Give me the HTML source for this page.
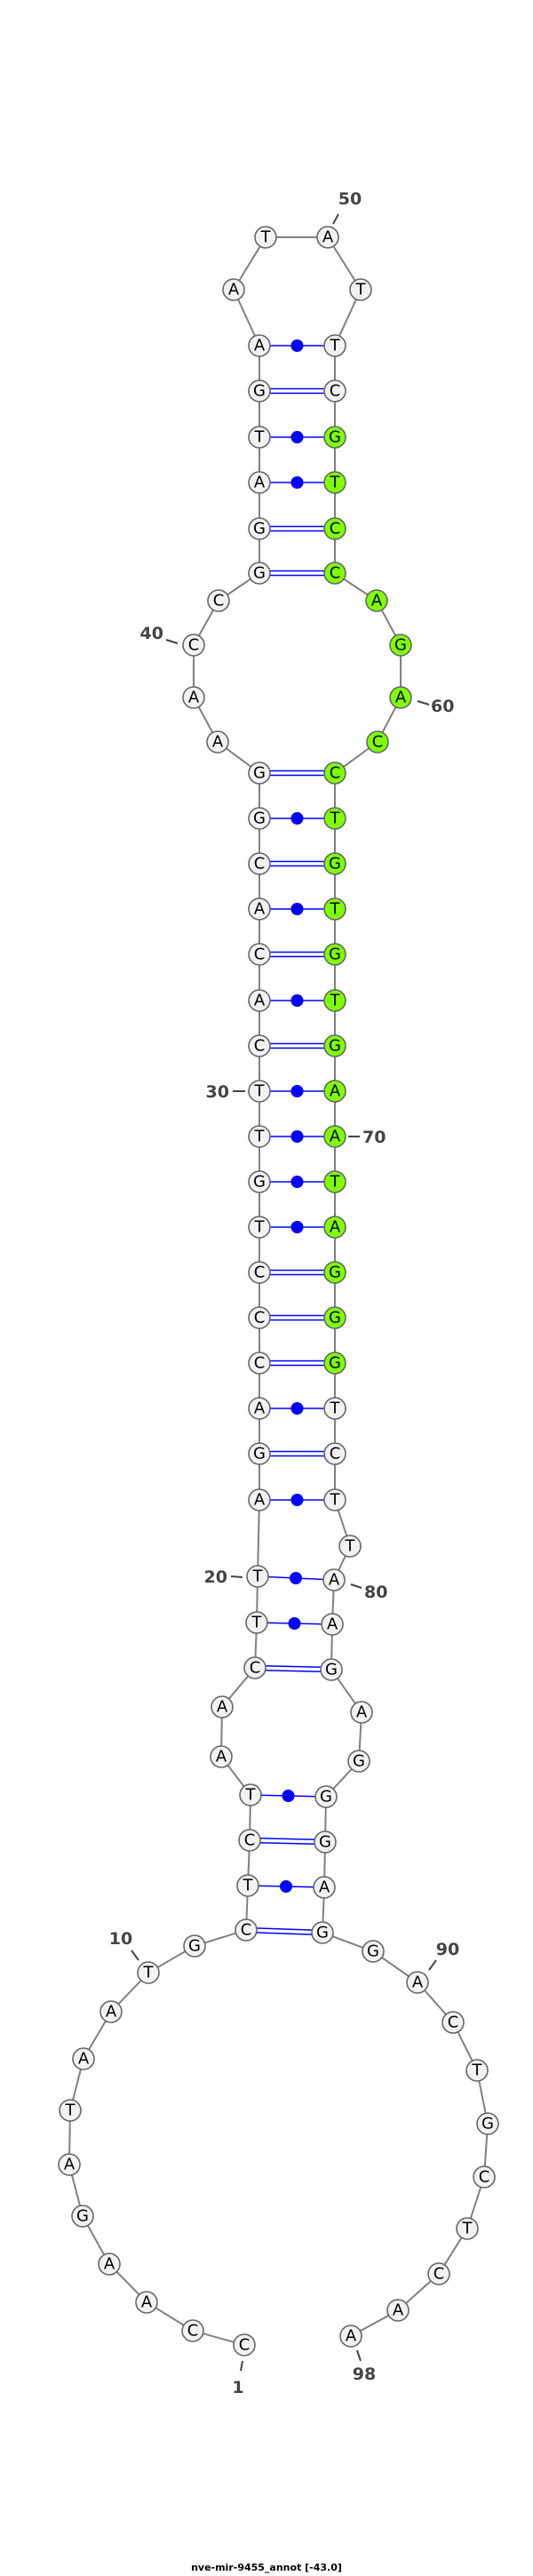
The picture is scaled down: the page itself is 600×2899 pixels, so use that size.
<!DOCTYPE html>
<html><head><meta charset="utf-8"><style>
html,body{margin:0;padding:0;background:#fff;}
svg{display:block}
.n circle{stroke:#666;stroke-width:1.6}
.w{fill:#f2f2f2}.g{fill:#7fff00}
.n text{font-family:"DejaVu Sans","Liberation Sans",sans-serif;font-size:18px;text-anchor:middle;dominant-baseline:central;fill:#000}
.lb{font-family:"DejaVu Sans","Liberation Sans",sans-serif;font-weight:bold;font-size:19px;fill:#444}
.tk{stroke:#444;stroke-width:2}
.bp{stroke:#00f;stroke-width:1.6}
</style></head><body>
<svg width="600" height="2899" viewBox="0 0 600 2899" xmlns="http://www.w3.org/2000/svg">
<polyline fill="none" stroke="#808080" stroke-width="2" points="275,2639 217,2623 165,2591 123,2548 93,2494 78,2436 79,2375 94,2317 125,2264 167,2220 219,2190 277,2172 279,2122 281,2071 282,2020 249,1977 250,1921 287,1877 289,1826 290,1774 292,1688 292,1636 292,1585 292,1534 292,1483 292,1432 292,1381 292,1330 292,1279 292,1228 292,1177 292,1126 292,1074 292,1023 292,972 292,921 292,870 245,835 218,785 218,726 246,676 292,645 292,595 292,543 292,492 292,440 292,389 263,326 299,267 369,267 406,326 377,389 377,440 377,492 377,543 377,595 377,645 424,676 451,726 451,785 425,835 377,870 377,921 377,972 377,1023 377,1074 377,1126 377,1177 377,1228 377,1279 377,1330 377,1381 377,1432 377,1483 377,1534 377,1585 377,1636 377,1688 394,1740 376,1778 374,1828 373,1879 407,1927 404,1982 367,2022 366,2073 365,2124 363,2175 420,2196 470,2231 510,2276 537,2330 549,2390 545,2450 526,2508 494,2559 448,2600 395,2629"/>
<g class="bp">
<!-- single (dot) pairs -->
<line x1="292" y1="389" x2="377" y2="389"/><line x1="292" y1="492" x2="377" y2="492"/><line x1="292" y1="543" x2="377" y2="543"/>
<line x1="292" y1="921" x2="377" y2="921"/><line x1="292" y1="1023" x2="377" y2="1023"/><line x1="292" y1="1126" x2="377" y2="1126"/>
<line x1="292" y1="1228" x2="377" y2="1228"/><line x1="292" y1="1279" x2="377" y2="1279"/><line x1="292" y1="1330" x2="377" y2="1330"/>
<line x1="292" y1="1381" x2="377" y2="1381"/><line x1="292" y1="1585" x2="377" y2="1585"/><line x1="292" y1="1688" x2="377" y2="1688"/>
<line x1="290" y1="1774" x2="376" y2="1778"/><line x1="289" y1="1826" x2="374" y2="1828"/><line x1="282" y1="2020" x2="367" y2="2022"/><line x1="279" y1="2122" x2="365" y2="2124"/>
<!-- double pairs -->
<line x1="292" y1="437.5" x2="377" y2="437.5"/><line x1="292" y1="442.5" x2="377" y2="442.5"/>
<line x1="292" y1="592.5" x2="377" y2="592.5"/><line x1="292" y1="597.5" x2="377" y2="597.5"/>
<line x1="292" y1="642.5" x2="377" y2="642.5"/><line x1="292" y1="647.5" x2="377" y2="647.5"/>
<line x1="292" y1="867.5" x2="377" y2="867.5"/><line x1="292" y1="872.5" x2="377" y2="872.5"/>
<line x1="292" y1="969.5" x2="377" y2="969.5"/><line x1="292" y1="974.5" x2="377" y2="974.5"/>
<line x1="292" y1="1071.5" x2="377" y2="1071.5"/><line x1="292" y1="1076.5" x2="377" y2="1076.5"/>
<line x1="292" y1="1174.5" x2="377" y2="1174.5"/><line x1="292" y1="1179.5" x2="377" y2="1179.5"/>
<line x1="292" y1="1429.5" x2="377" y2="1429.5"/><line x1="292" y1="1434.5" x2="377" y2="1434.5"/>
<line x1="292" y1="1480.5" x2="377" y2="1480.5"/><line x1="292" y1="1485.5" x2="377" y2="1485.5"/>
<line x1="292" y1="1531.5" x2="377" y2="1531.5"/><line x1="292" y1="1536.5" x2="377" y2="1536.5"/>
<line x1="292" y1="1633.5" x2="377" y2="1633.5"/><line x1="292" y1="1638.5" x2="377" y2="1638.5"/>
<line x1="287" y1="1874.5" x2="373" y2="1876.5"/><line x1="287" y1="1879.5" x2="373" y2="1881.5"/>
<line x1="281" y1="2068.5" x2="366" y2="2070.5"/><line x1="281" y1="2073.5" x2="366" y2="2075.5"/>
<line x1="277" y1="2169.5" x2="363" y2="2172.5"/><line x1="277" y1="2174.5" x2="363" y2="2177.5"/>
</g>
<g fill="#00f">
<circle cx="334.5" cy="389" r="7"/><circle cx="334.5" cy="492" r="7"/><circle cx="334.5" cy="543" r="7"/>
<circle cx="334.5" cy="921" r="7"/><circle cx="334.5" cy="1023" r="7"/><circle cx="334.5" cy="1126" r="7"/>
<circle cx="334.5" cy="1228" r="7"/><circle cx="334.5" cy="1279" r="7"/><circle cx="334.5" cy="1330" r="7"/>
<circle cx="334.5" cy="1381" r="7"/><circle cx="334.5" cy="1585" r="7"/><circle cx="334.5" cy="1688" r="7"/>
<circle cx="333" cy="1776" r="7"/><circle cx="331.5" cy="1827" r="7"/><circle cx="324.5" cy="2021" r="7"/><circle cx="322" cy="2123" r="7"/>
</g>
<g class="n">
<circle class="w" cx="275" cy="2639" r="12"/><text x="275" y="2639">C</text>
<circle class="w" cx="217" cy="2623" r="12"/><text x="217" y="2623">C</text>
<circle class="w" cx="165" cy="2591" r="12"/><text x="165" y="2591">A</text>
<circle class="w" cx="123" cy="2548" r="12"/><text x="123" y="2548">A</text>
<circle class="w" cx="93" cy="2494" r="12"/><text x="93" y="2494">G</text>
<circle class="w" cx="78" cy="2436" r="12"/><text x="78" y="2436">A</text>
<circle class="w" cx="79" cy="2375" r="12"/><text x="79" y="2375">T</text>
<circle class="w" cx="94" cy="2317" r="12"/><text x="94" y="2317">A</text>
<circle class="w" cx="125" cy="2264" r="12"/><text x="125" y="2264">A</text>
<circle class="w" cx="167" cy="2220" r="12"/><text x="167" y="2220">T</text>
<circle class="w" cx="219" cy="2190" r="12"/><text x="219" y="2190">G</text>
<circle class="w" cx="277" cy="2172" r="12"/><text x="277" y="2172">C</text>
<circle class="w" cx="279" cy="2122" r="12"/><text x="279" y="2122">T</text>
<circle class="w" cx="281" cy="2071" r="12"/><text x="281" y="2071">C</text>
<circle class="w" cx="282" cy="2020" r="12"/><text x="282" y="2020">T</text>
<circle class="w" cx="249" cy="1977" r="12"/><text x="249" y="1977">A</text>
<circle class="w" cx="250" cy="1921" r="12"/><text x="250" y="1921">A</text>
<circle class="w" cx="287" cy="1877" r="12"/><text x="287" y="1877">C</text>
<circle class="w" cx="289" cy="1826" r="12"/><text x="289" y="1826">T</text>
<circle class="w" cx="290" cy="1774" r="12"/><text x="290" y="1774">T</text>
<circle class="w" cx="292" cy="1688" r="12"/><text x="292" y="1688">A</text>
<circle class="w" cx="292" cy="1636" r="12"/><text x="292" y="1636">G</text>
<circle class="w" cx="292" cy="1585" r="12"/><text x="292" y="1585">A</text>
<circle class="w" cx="292" cy="1534" r="12"/><text x="292" y="1534">C</text>
<circle class="w" cx="292" cy="1483" r="12"/><text x="292" y="1483">C</text>
<circle class="w" cx="292" cy="1432" r="12"/><text x="292" y="1432">C</text>
<circle class="w" cx="292" cy="1381" r="12"/><text x="292" y="1381">T</text>
<circle class="w" cx="292" cy="1330" r="12"/><text x="292" y="1330">G</text>
<circle class="w" cx="292" cy="1279" r="12"/><text x="292" y="1279">T</text>
<circle class="w" cx="292" cy="1228" r="12"/><text x="292" y="1228">T</text>
<circle class="w" cx="292" cy="1177" r="12"/><text x="292" y="1177">C</text>
<circle class="w" cx="292" cy="1126" r="12"/><text x="292" y="1126">A</text>
<circle class="w" cx="292" cy="1074" r="12"/><text x="292" y="1074">C</text>
<circle class="w" cx="292" cy="1023" r="12"/><text x="292" y="1023">A</text>
<circle class="w" cx="292" cy="972" r="12"/><text x="292" y="972">C</text>
<circle class="w" cx="292" cy="921" r="12"/><text x="292" y="921">G</text>
<circle class="w" cx="292" cy="870" r="12"/><text x="292" y="870">G</text>
<circle class="w" cx="245" cy="835" r="12"/><text x="245" y="835">A</text>
<circle class="w" cx="218" cy="785" r="12"/><text x="218" y="785">A</text>
<circle class="w" cx="218" cy="726" r="12"/><text x="218" y="726">C</text>
<circle class="w" cx="246" cy="676" r="12"/><text x="246" y="676">C</text>
<circle class="w" cx="292" cy="645" r="12"/><text x="292" y="645">G</text>
<circle class="w" cx="292" cy="595" r="12"/><text x="292" y="595">G</text>
<circle class="w" cx="292" cy="543" r="12"/><text x="292" y="543">A</text>
<circle class="w" cx="292" cy="492" r="12"/><text x="292" y="492">T</text>
<circle class="w" cx="292" cy="440" r="12"/><text x="292" y="440">G</text>
<circle class="w" cx="292" cy="389" r="12"/><text x="292" y="389">A</text>
<circle class="w" cx="263" cy="326" r="12"/><text x="263" y="326">A</text>
<circle class="w" cx="299" cy="267" r="12"/><text x="299" y="267">T</text>
<circle class="w" cx="369" cy="267" r="12"/><text x="369" y="267">A</text>
<circle class="w" cx="406" cy="326" r="12"/><text x="406" y="326">T</text>
<circle class="w" cx="377" cy="389" r="12"/><text x="377" y="389">T</text>
<circle class="w" cx="377" cy="440" r="12"/><text x="377" y="440">C</text>
<circle class="g" cx="377" cy="492" r="12"/><text x="377" y="492">G</text>
<circle class="g" cx="377" cy="543" r="12"/><text x="377" y="543">T</text>
<circle class="g" cx="377" cy="595" r="12"/><text x="377" y="595">C</text>
<circle class="g" cx="377" cy="645" r="12"/><text x="377" y="645">C</text>
<circle class="g" cx="424" cy="676" r="12"/><text x="424" y="676">A</text>
<circle class="g" cx="451" cy="726" r="12"/><text x="451" y="726">G</text>
<circle class="g" cx="451" cy="785" r="12"/><text x="451" y="785">A</text>
<circle class="g" cx="425" cy="835" r="12"/><text x="425" y="835">C</text>
<circle class="g" cx="377" cy="870" r="12"/><text x="377" y="870">C</text>
<circle class="g" cx="377" cy="921" r="12"/><text x="377" y="921">T</text>
<circle class="g" cx="377" cy="972" r="12"/><text x="377" y="972">G</text>
<circle class="g" cx="377" cy="1023" r="12"/><text x="377" y="1023">T</text>
<circle class="g" cx="377" cy="1074" r="12"/><text x="377" y="1074">G</text>
<circle class="g" cx="377" cy="1126" r="12"/><text x="377" y="1126">T</text>
<circle class="g" cx="377" cy="1177" r="12"/><text x="377" y="1177">G</text>
<circle class="g" cx="377" cy="1228" r="12"/><text x="377" y="1228">A</text>
<circle class="g" cx="377" cy="1279" r="12"/><text x="377" y="1279">A</text>
<circle class="g" cx="377" cy="1330" r="12"/><text x="377" y="1330">T</text>
<circle class="g" cx="377" cy="1381" r="12"/><text x="377" y="1381">A</text>
<circle class="g" cx="377" cy="1432" r="12"/><text x="377" y="1432">G</text>
<circle class="g" cx="377" cy="1483" r="12"/><text x="377" y="1483">G</text>
<circle class="g" cx="377" cy="1534" r="12"/><text x="377" y="1534">G</text>
<circle class="w" cx="377" cy="1585" r="12"/><text x="377" y="1585">T</text>
<circle class="w" cx="377" cy="1636" r="12"/><text x="377" y="1636">C</text>
<circle class="w" cx="377" cy="1688" r="12"/><text x="377" y="1688">T</text>
<circle class="w" cx="394" cy="1740" r="12"/><text x="394" y="1740">T</text>
<circle class="w" cx="376" cy="1778" r="12"/><text x="376" y="1778">A</text>
<circle class="w" cx="374" cy="1828" r="12"/><text x="374" y="1828">A</text>
<circle class="w" cx="373" cy="1879" r="12"/><text x="373" y="1879">G</text>
<circle class="w" cx="407" cy="1927" r="12"/><text x="407" y="1927">A</text>
<circle class="w" cx="404" cy="1982" r="12"/><text x="404" y="1982">G</text>
<circle class="w" cx="367" cy="2022" r="12"/><text x="367" y="2022">G</text>
<circle class="w" cx="366" cy="2073" r="12"/><text x="366" y="2073">G</text>
<circle class="w" cx="365" cy="2124" r="12"/><text x="365" y="2124">A</text>
<circle class="w" cx="363" cy="2175" r="12"/><text x="363" y="2175">G</text>
<circle class="w" cx="420" cy="2196" r="12"/><text x="420" y="2196">G</text>
<circle class="w" cx="470" cy="2231" r="12"/><text x="470" y="2231">A</text>
<circle class="w" cx="510" cy="2276" r="12"/><text x="510" y="2276">C</text>
<circle class="w" cx="537" cy="2330" r="12"/><text x="537" y="2330">T</text>
<circle class="w" cx="549" cy="2390" r="12"/><text x="549" y="2390">G</text>
<circle class="w" cx="545" cy="2450" r="12"/><text x="545" y="2450">C</text>
<circle class="w" cx="526" cy="2508" r="12"/><text x="526" y="2508">T</text>
<circle class="w" cx="494" cy="2559" r="12"/><text x="494" y="2559">C</text>
<circle class="w" cx="448" cy="2600" r="12"/><text x="448" y="2600">A</text>
<circle class="w" cx="395" cy="2629" r="12"/><text x="395" y="2629">A</text>
</g>
<g class="tk">
<line x1="381" y1="241" x2="375" y2="252"/>
<line x1="187" y1="720" x2="200" y2="724"/>
<line x1="470" y1="789" x2="483" y2="793"/>
<line x1="262" y1="1228" x2="276" y2="1228"/>
<line x1="392" y1="1279" x2="405" y2="1279"/>
<line x1="260" y1="1774" x2="273" y2="1775"/>
<line x1="395" y1="1783" x2="407" y2="1787"/>
<line x1="148" y1="2195" x2="156" y2="2206"/>
<line x1="491" y1="2206" x2="483" y2="2217"/>
<line x1="273" y1="2657" x2="271" y2="2668"/>
<line x1="402" y1="2645" x2="406" y2="2657"/>
</g>
<g class="lb">
<text x="394" y="230" text-anchor="middle">50</text>
<text x="184" y="719" text-anchor="end">40</text>
<text x="485" y="801" text-anchor="start">60</text>
<text x="258" y="1235" text-anchor="end">30</text>
<text x="408" y="1286" text-anchor="start">70</text>
<text x="256" y="1781" text-anchor="end">20</text>
<text x="410" y="1798" text-anchor="start">80</text>
<text x="136" y="2188" text-anchor="middle">10</text>
<text x="504" y="2200" text-anchor="middle">90</text>
<text x="268" y="2693" text-anchor="middle">1</text>
<text x="410" y="2678" text-anchor="middle">98</text>
</g>
<text x="300" y="2893" text-anchor="middle" style="font-family:'DejaVu Sans','Liberation Sans',sans-serif;font-weight:bold;font-size:11px;fill:#000">nve-mir-9455_annot [-43.0]</text>
</svg>
</body></html>
